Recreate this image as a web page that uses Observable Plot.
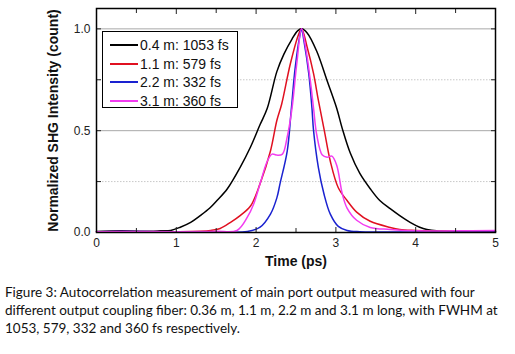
<!DOCTYPE html>
<html>
<head>
<meta charset="utf-8">
<script src="https://cdn.jsdelivr.net/npm/d3@7"></script>
<script src="https://cdn.jsdelivr.net/npm/@observablehq/plot@0.6"></script>
<style>
  body { margin: 0; background: #fff; }
  #wrap { position: relative; width: 515px; height: 354px; overflow: hidden; background: #fff; }
  #legend { position: absolute; left: 102px; top: 31px; width: 134px; height: 75px; border: 1px solid #000; background: #fff;
    font-family: "Liberation Sans", Arial, sans-serif; font-size: 14px; color: #111; }
  .entry { position: absolute; left: 0; height: 18px; line-height: 18px; }
  .entry .sw { position: absolute; left: 7px; top: 8px; width: 28px; height: 0; border-top: 2px solid; }
  .entry .lb { position: absolute; left: 37px; top: 0; white-space: nowrap; }
  #caption { position: absolute; left: 5px; top: 283px; font-family: Lato, "Open Sans", sans-serif; font-size: 13.5px;
    line-height: 18px; color: #111; white-space: nowrap; }
</style>
</head>
<body>
<div id="wrap">
  <div id="chart"></div>
  <div id="legend"></div>
  <div id="caption"></div>
</div>
<script>
// ---- data ----
const seriesNames = ["0.4 m: 1053 fs", "1.1 m: 579 fs", "2.2 m: 332 fs", "3.1 m: 360 fs"];
const seriesColors = ["#000000", "#e01020", "#1a22d0", "#f23cf0"];

const blackT = [0, 0.3, 0.6, 0.8, 0.93, 1.05, 1.18, 1.30, 1.42, 1.51, 1.64, 1.80, 1.93, 2.05, 2.14, 2.26, 2.35, 2.45, 2.52, 2.57, 2.64, 2.76, 2.89, 3.01, 3.08, 3.18, 3.30, 3.43, 3.55, 3.68, 3.80, 3.93, 4.05, 4.14, 4.26, 4.5, 4.8, 5];
const blackV = [0.005, 0.008, 0.006, 0.008, 0.01, 0.026, 0.05, 0.083, 0.12, 0.157, 0.215, 0.32, 0.42, 0.53, 0.61, 0.79, 0.877, 0.95, 0.99, 1.0, 0.98, 0.89, 0.745, 0.61, 0.51, 0.39, 0.29, 0.215, 0.157, 0.117, 0.083, 0.05, 0.026, 0.015, 0.008, 0.006, 0.005, 0.006];

const redT = [0, 0.5, 1.0, 1.3, 1.43, 1.55, 1.68, 1.80, 1.93, 2.05, 2.18, 2.26, 2.32, 2.43, 2.53, 2.57, 2.64, 2.72, 2.78, 2.855, 2.93, 3.03, 3.14, 3.26, 3.43, 3.68, 3.80, 4.0, 4.3, 4.6, 5];
const redV = [0.003, 0.004, 0.004, 0.006, 0.01, 0.02, 0.05, 0.083, 0.13, 0.24, 0.40, 0.55, 0.63, 0.83, 0.97, 1.0, 0.91, 0.78, 0.65, 0.5, 0.35, 0.22, 0.157, 0.10, 0.055, 0.025, 0.015, 0.01, 0.006, 0.008, 0.006];

const blueT = [0, 0.5, 1.0, 1.5, 1.89, 2.05, 2.18, 2.26, 2.30, 2.39, 2.44, 2.49, 2.55, 2.57, 2.60, 2.66, 2.70, 2.72, 2.78, 2.85, 2.93, 3.03, 3.14, 3.3, 3.6, 4.0, 4.5, 5];
const blueV = [0.004, 0.005, 0.003, 0.003, 0.005, 0.026, 0.09, 0.17, 0.24, 0.40, 0.60, 0.81, 0.97, 1.0, 0.94, 0.78, 0.61, 0.5, 0.32, 0.19, 0.09, 0.03, 0.01, 0.004, 0.003, 0.003, 0.003, 0.003];

const magentaT = [0, 0.5, 1.0, 1.5, 1.76, 1.89, 1.97, 2.05, 2.14, 2.20, 2.26, 2.33, 2.39, 2.45, 2.51, 2.57, 2.62, 2.68, 2.72, 2.76, 2.83, 2.89, 2.95, 3.01, 3.08, 3.14, 3.26, 3.43, 3.68, 4.0, 4.5, 5];
const magentaV = [0.004, 0.005, 0.004, 0.006, 0.01, 0.075, 0.14, 0.24, 0.35, 0.385, 0.38, 0.385, 0.47, 0.61, 0.83, 1.0, 0.91, 0.745, 0.61, 0.48, 0.38, 0.37, 0.375, 0.33, 0.19, 0.12, 0.06, 0.025, 0.015, 0.008, 0.008, 0.01];

const xTicks = [0, 1, 2, 3, 4, 5];
const xMinorTicks = [0.5, 1.5, 2.5, 3.5, 4.5];
const yTicks = [0.0, 0.5, 1.0];
const yMinorTicks = [0.25, 0.75];
const xTitle = "Time (ps)";
const yTitle = "Normalized SHG Intensity (count)";
const captionLines = [
  "Figure 3: Autocorrelation measurement of main port output measured with four",
  "different output coupling fiber: 0.36 m, 1.1 m, 2.2 m and 3.1 m long, with FWHM at",
  "1053, 579, 332 and 360 fs respectively."
];

// ---- build table ----
const allT = [blackT, redT, blueT, magentaT];
const allV = [blackV, redV, blueV, magentaV];
const rows = [];
seriesNames.forEach((name, i) => {
  allT[i].forEach((t, j) => rows.push({series: name, t, v: allV[i][j]}));
});

const chart = Plot.plot({
  width: 515,
  height: 280,
  marginLeft: 96,
  marginRight: 20,
  marginTop: 8,
  marginBottom: 48,
  style: {fontFamily: "'Liberation Sans', Arial, sans-serif", fontSize: "12px", color: "#222", overflow: "visible"},
  x: {domain: [0, 5]},
  y: {domain: [0, 1.1]},
  color: {domain: seriesNames, range: seriesColors},
  marks: [
    Plot.ruleY(yMinorTicks, {stroke: "#c8c8c8", strokeDasharray: "1.5,1.5"}),
    Plot.ruleY([0.5, 1.0], {stroke: "#a8a8a8", strokeWidth: 1}),
    Plot.line(rows, {x: "t", y: "v", z: "series", stroke: "series", strokeWidth: 1.5, curve: "catmull-rom"}),
    Plot.axisX({anchor: "bottom", ticks: xTicks, tickSize: 0, tickPadding: 6, tickFormat: d => String(d), label: null, fontSize: 12}),
    Plot.axisX({anchor: "bottom", ticks: xTicks, tickSize: -5, tickFormat: () => "", label: null}),
    Plot.axisX({anchor: "bottom", ticks: xMinorTicks, tickSize: -4, tickFormat: () => "", label: null}),
    Plot.axisX({anchor: "top", ticks: xTicks, tickSize: -5, tickFormat: () => "", label: null}),
    Plot.axisX({anchor: "top", ticks: xMinorTicks, tickSize: -4, tickFormat: () => "", label: null}),
    Plot.axisY({anchor: "left", ticks: yTicks, tickSize: 0, tickPadding: 6, tickFormat: d3.format(".1f"), label: null, fontSize: 12}),
    Plot.axisY({anchor: "left", ticks: yTicks.concat(yMinorTicks), tickSize: -5, tickFormat: () => "", label: null}),
    Plot.axisY({anchor: "right", ticks: yTicks.concat(yMinorTicks), tickSize: -5, tickFormat: () => "", label: null}),
    Plot.frame({stroke: "#000", strokeWidth: 1.5}),
    Plot.text([yTitle], {frameAnchor: "left", textAnchor: "middle", rotate: -90, dx: -43, fontWeight: "bold", fontSize: 14, fill: "#111"}),
    Plot.text([xTitle], {frameAnchor: "bottom", textAnchor: "middle", dy: 33, fontWeight: "bold", fontSize: 14, fill: "#111"})
  ]
});
document.getElementById("chart").appendChild(chart);

// ---- legend ----
const legend = document.getElementById("legend");
seriesNames.forEach((name, i) => {
  const e = document.createElement("div");
  e.className = "entry";
  e.style.top = (4 + i * 18.7) + "px";
  const sw = document.createElement("div");
  sw.className = "sw";
  sw.style.borderTopColor = seriesColors[i];
  const lb = document.createElement("div");
  lb.className = "lb";
  lb.textContent = name;
  e.appendChild(sw); e.appendChild(lb);
  legend.appendChild(e);
});

// ---- caption ----
document.getElementById("caption").innerHTML = captionLines.map(s => s.replace(/&/g, "&amp;").replace(/</g, "&lt;")).join("<br>");
</script>
</body>
</html>
